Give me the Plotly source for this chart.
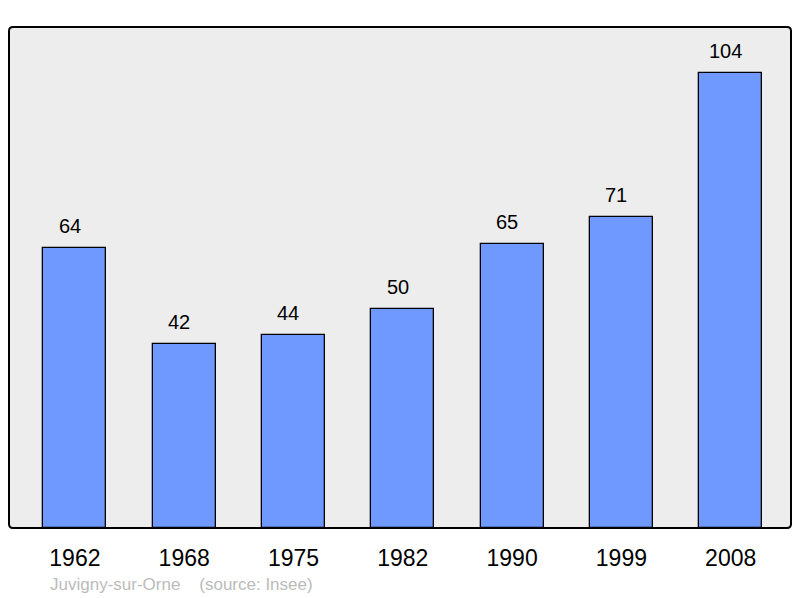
import plotly.graph_objects as go

years = ["1962", "1968", "1975", "1982", "1990", "1999", "2008"]
population = [64, 42, 44, 50, 65, 71, 104]

fig = go.Figure()
fig.add_trace(go.Bar(
    x=years, y=population, width=0.576,
    marker=dict(color="#7099ff", line=dict(color="#000000", width=1.3)),
    hoverinfo="x+y",
))
for i, v in enumerate(population):
    fig.add_annotation(x=i, y=v, text=str(v), showarrow=False, yanchor="bottom",
                       yshift=9, xshift=-5,
                       font=dict(family="Liberation Sans, Arial", size=20, color="#000"))

# frame with slightly rounded corners
rx, ry = 4 / 782, 4 / 501
path = (f"M {rx},0 L {1-rx},0 Q 1,0 1,{ry} L 1,{1-ry} Q 1,1 {1-rx},1 "
        f"L {rx},1 Q 0,1 0,{1-ry} L 0,{ry} Q 0,0 {rx},0 Z")
fig.add_shape(type="path", xref="paper", yref="paper", path=path,
              line=dict(color="#000000", width=2), layer="above")

fig.add_annotation(xref="paper", yref="paper", x=(48-9)/782, y=-(584-528)/501,
                   xanchor="left", yanchor="middle", showarrow=False,
                   text="Juvigny-sur-Orne&nbsp;&nbsp;&nbsp;&nbsp;(source: Insee)",
                   font=dict(family="Liberation Sans, Arial", size=17, color="#bbbbbb"))

fig.update_layout(
    width=800, height=598,
    margin=dict(l=9, r=9, t=27, b=70),
    paper_bgcolor="#ffffff", plot_bgcolor="#ededed",
    showlegend=False,
    xaxis=dict(type="category", range=[-0.603, 6.552], showgrid=False, zeroline=False,
               ticks="outside", ticklen=9, tickcolor="rgba(0,0,0,0)",
               tickfont=dict(family="Liberation Sans, Arial", size=23, color="#000")),
    yaxis=dict(range=[0, 114.5], showgrid=False, zeroline=False, showticklabels=False, ticks=""),
    bargap=0,
)
fig.write_html("out.html", config={"displayModeBar": False},
               post_script="document.body.style.margin='0';document.body.style.padding='0';")
